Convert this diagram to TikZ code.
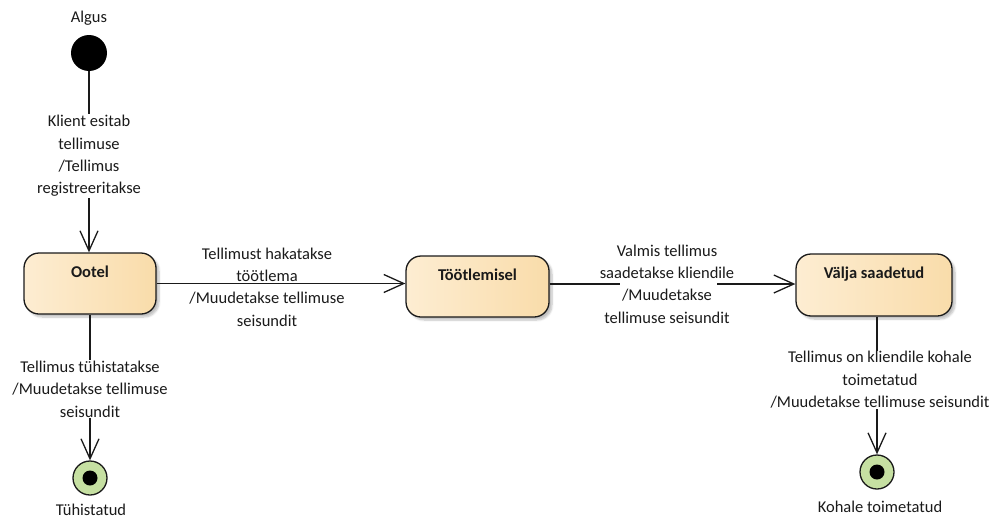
\documentclass[tikz,border=0pt]{standalone}
\usepackage{fontspec}
\setmainfont{Carlito}
\usetikzlibrary{arrows.meta,shadows.blur}
\definecolor{stateL}{HTML}{FDEDD2}
\definecolor{stateR}{HTML}{F9DCAA}
\definecolor{finalG}{HTML}{C6E0A2}
\definecolor{ink}{HTML}{1A1A1A}
\tikzset{
  lbl/.style={font=\fontsize{16.5}{22.4}\selectfont, text=ink, align=center, inner sep=1pt},
  whitelbl/.style={lbl, fill=white},
  statebox/.style={draw=ink, line width=1.3pt, rounded corners=15pt,
    left color=stateL, right color=stateR, shading angle=90,
    font=\fontsize{16.5}{18}\selectfont\bfseries, text=ink,
    text height=12pt, text depth=25pt, inner sep=0pt,
    blur shadow={shadow xshift=3pt, shadow yshift=-3pt, shadow opacity=25, shadow blur steps=6}},
  initst/.style={circle, fill=black, minimum size=36pt, inner sep=0pt},
  finalst/.style={circle, draw=ink, line width=1.3pt, fill=finalG, minimum size=34pt, inner sep=0pt,
    path picture={\fill[black] (path picture bounding box.center) circle (7.5pt);}},
  edge/.style={draw=ink, line width=1.3pt, -{Straight Barb[length=20pt,width=18pt,line width=1.3pt]}},
  plain/.style={draw=ink, line width=1.3pt}
}
\begin{document}
\begin{tikzpicture}[x=1pt,y=-1pt]
\useasboundingbox (0,0) rectangle (995,522);
% states
\node[initst] (start) at (89,53) {};
\node[lbl] (algus) at (89,18) {Algus};
\node[statebox, minimum width=132pt, minimum height=61pt] (ootel) at (90,283.5) {Ootel};
\node[statebox, minimum width=143pt, minimum height=61pt] (tootl) at (477.5,286.5) {Töötlemisel};
\node[statebox, minimum width=156pt, minimum height=62pt] (valja) at (874,285) {Välja saadetud};
\node[finalst] (tyh) at (90,478) {};
\node[finalst] (koh) at (877,472) {};
\node[lbl] (tyhl) at (91,510) {Tühistatud};
\node[lbl] (kohl) at (880,507) {Kohale toimetatud};
% transitions
\draw[edge] (start) -- (start |- ootel.north);
\node[whitelbl] (l1) at (89,156) {Klient esitab\\tellimuse\\/Tellimus\\registreeritakse};
\draw[edge] (ootel.east) -- (ootel.east -| tootl.west);
\node[lbl] (l2) at (267,287) {Tellimust hakatakse\\töötlema\\/Muudetakse tellimuse\\seisundit};
\coordinate (gapL) at (620,284);
\coordinate (gapR) at (717,284);
\draw[plain] (tootl.east |- gapL) -- (gapL);
\draw[edge] (gapR) -- (gapR -| valja.west);
\node[lbl] (l3) at (667,284) {Valmis tellimus\\saadetakse kliendile\\/Muudetakse\\tellimuse seisundit};
\draw[edge] (ootel.south) -- (tyh.north);
\node[whitelbl] (l4) at (90,389) {Tellimus tühistatakse\\/Muudetakse tellimuse\\seisundit};
\draw[edge] (koh |- valja.south) -- (koh.north);
\node[whitelbl] (l5) at (880,380) {Tellimus on kliendile kohale\\toimetatud\\/Muudetakse tellimuse seisundit};
\end{tikzpicture}
\end{document}
